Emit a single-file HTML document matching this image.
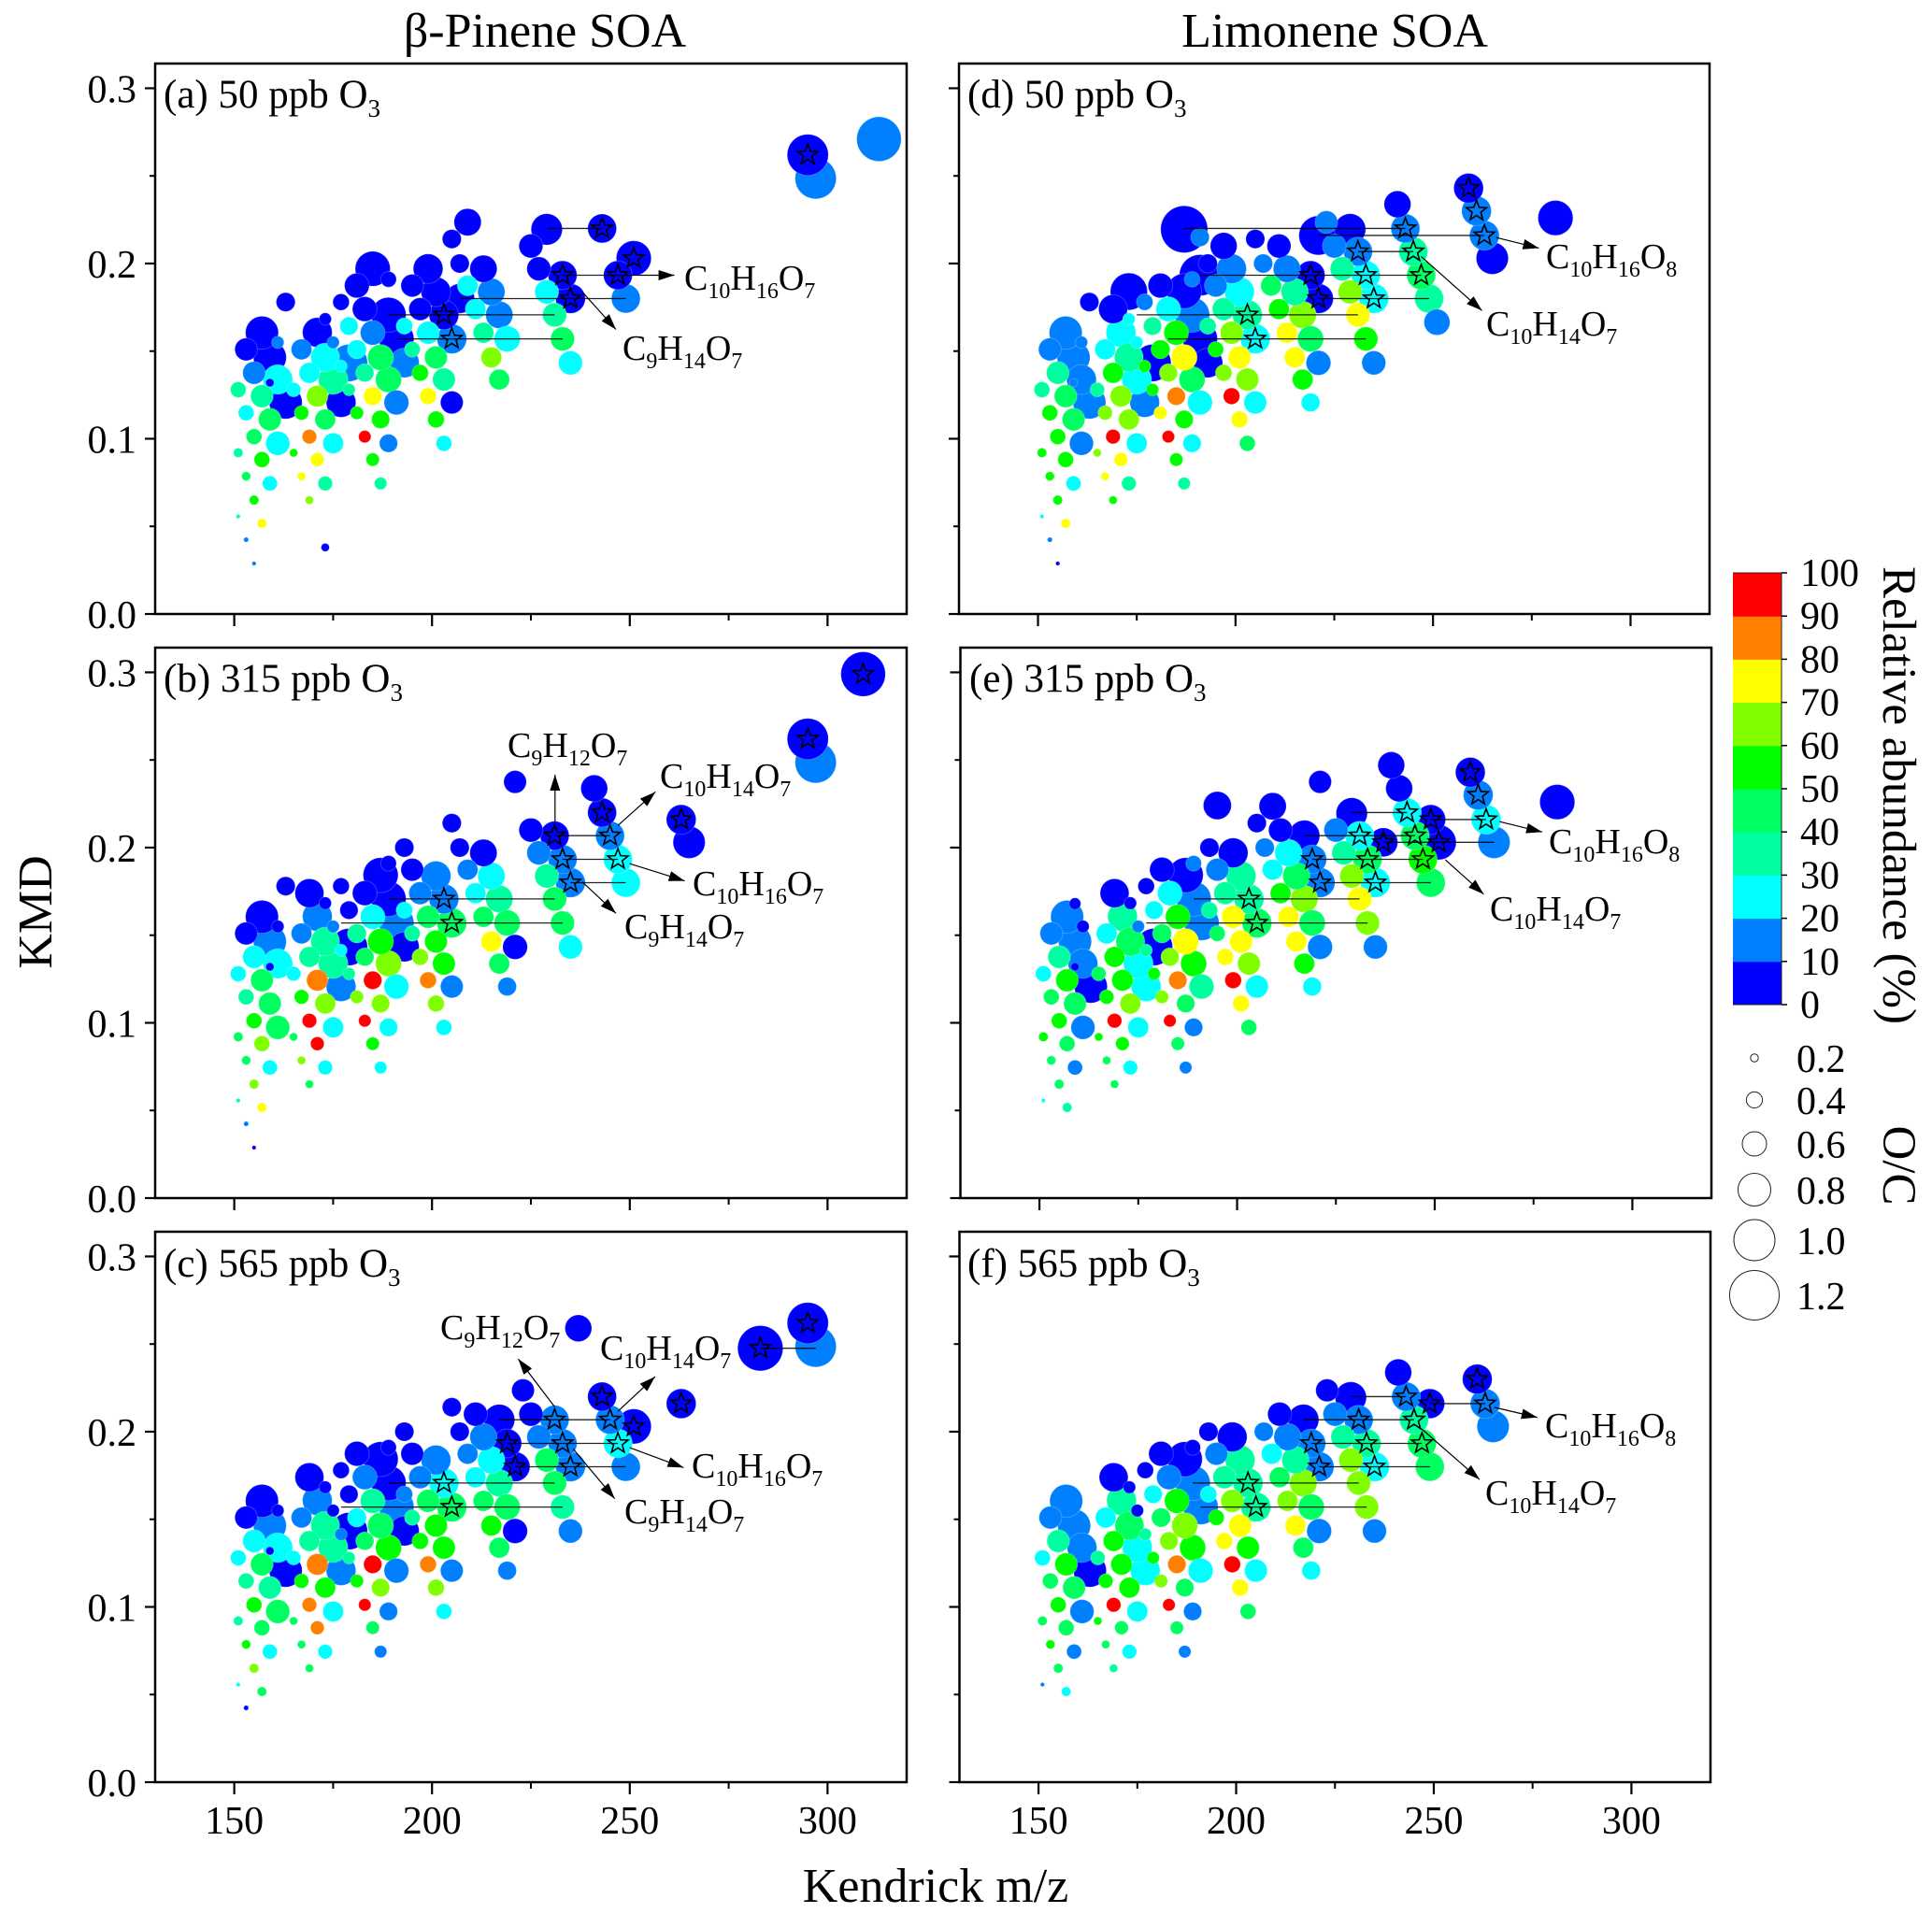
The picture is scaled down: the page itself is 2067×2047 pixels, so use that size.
<!DOCTYPE html>
<html lang="en">
<head>
<meta charset="utf-8">
<title>Kendrick mass defect plots of SOA</title>
<style>
html,body{margin:0;padding:0;background:#fff}
svg{display:block}
text{font-family:"Liberation Serif","DejaVu Serif",serif;fill:#000}
.tick{font-size:42px}
.title{font-size:52px}
.cbtitle{font-size:51px}
.plabel{font-size:43px}
.ann{font-size:38px}
</style>
</head>
<body>
<svg id="chart" xmlns="http://www.w3.org/2000/svg" width="2067" height="2047" viewBox="0 0 2067 2047">
<defs>
<marker id="head" markerUnits="userSpaceOnUse" markerWidth="18" markerHeight="12" refX="17" refY="5.5" orient="auto"><path d="M0,0 L17,5.5 L0,11 Z" fill="#000"/></marker>
</defs>
<rect width="2067" height="2047" fill="#fff"/>
<g id="plots"></g>

<text class="title" x="583" y="50" text-anchor="middle">β-Pinene SOA</text>
<text class="title" x="1428" y="50" text-anchor="middle">Limonene SOA</text>
<text class="title" x="1001" y="2035" text-anchor="middle">Kendrick m/z</text>
<text class="title" transform="translate(55,976) rotate(-90)" text-anchor="middle">KMD</text>

<text class="plabel" x="175" y="115">(a) 50 ppb O<tspan dy="10" font-size="27">3</tspan></text>
<text class="plabel" x="175" y="740">(b) 315 ppb O<tspan dy="10" font-size="27">3</tspan></text>
<text class="plabel" x="175" y="1366">(c) 565 ppb O<tspan dy="10" font-size="27">3</tspan></text>
<text class="plabel" x="1035" y="115">(d) 50 ppb O<tspan dy="10" font-size="27">3</tspan></text>
<text class="plabel" x="1037" y="740">(e) 315 ppb O<tspan dy="10" font-size="27">3</tspan></text>
<text class="plabel" x="1035" y="1366">(f) 565 ppb O<tspan dy="10" font-size="27">3</tspan></text>

<text class="ann" x="732" y="310">C<tspan dy="9" font-size="24">10</tspan><tspan dy="-9">H</tspan><tspan dy="9" font-size="24">16</tspan><tspan dy="-9">O</tspan><tspan dy="9" font-size="24">7</tspan></text>
<text class="ann" x="666" y="385">C<tspan dy="9" font-size="24">9</tspan><tspan dy="-9">H</tspan><tspan dy="9" font-size="24">14</tspan><tspan dy="-9">O</tspan><tspan dy="9" font-size="24">7</tspan></text>

<text class="ann" x="543" y="810">C<tspan dy="9" font-size="24">9</tspan><tspan dy="-9">H</tspan><tspan dy="9" font-size="24">12</tspan><tspan dy="-9">O</tspan><tspan dy="9" font-size="24">7</tspan></text>
<text class="ann" x="706" y="843">C<tspan dy="9" font-size="24">10</tspan><tspan dy="-9">H</tspan><tspan dy="9" font-size="24">14</tspan><tspan dy="-9">O</tspan><tspan dy="9" font-size="24">7</tspan></text>
<text class="ann" x="741" y="958">C<tspan dy="9" font-size="24">10</tspan><tspan dy="-9">H</tspan><tspan dy="9" font-size="24">16</tspan><tspan dy="-9">O</tspan><tspan dy="9" font-size="24">7</tspan></text>
<text class="ann" x="668" y="1004">C<tspan dy="9" font-size="24">9</tspan><tspan dy="-9">H</tspan><tspan dy="9" font-size="24">14</tspan><tspan dy="-9">O</tspan><tspan dy="9" font-size="24">7</tspan></text>

<text class="ann" x="471" y="1433">C<tspan dy="9" font-size="24">9</tspan><tspan dy="-9">H</tspan><tspan dy="9" font-size="24">12</tspan><tspan dy="-9">O</tspan><tspan dy="9" font-size="24">7</tspan></text>
<text class="ann" x="642" y="1455">C<tspan dy="9" font-size="24">10</tspan><tspan dy="-9">H</tspan><tspan dy="9" font-size="24">14</tspan><tspan dy="-9">O</tspan><tspan dy="9" font-size="24">7</tspan></text>
<text class="ann" x="740" y="1581">C<tspan dy="9" font-size="24">10</tspan><tspan dy="-9">H</tspan><tspan dy="9" font-size="24">16</tspan><tspan dy="-9">O</tspan><tspan dy="9" font-size="24">7</tspan></text>
<text class="ann" x="668" y="1630">C<tspan dy="9" font-size="24">9</tspan><tspan dy="-9">H</tspan><tspan dy="9" font-size="24">14</tspan><tspan dy="-9">O</tspan><tspan dy="9" font-size="24">7</tspan></text>

<text class="ann" x="1654" y="287">C<tspan dy="9" font-size="24">10</tspan><tspan dy="-9">H</tspan><tspan dy="9" font-size="24">16</tspan><tspan dy="-9">O</tspan><tspan dy="9" font-size="24">8</tspan></text>
<text class="ann" x="1590" y="359">C<tspan dy="9" font-size="24">10</tspan><tspan dy="-9">H</tspan><tspan dy="9" font-size="24">14</tspan><tspan dy="-9">O</tspan><tspan dy="9" font-size="24">7</tspan></text>
<text class="ann" x="1657" y="913">C<tspan dy="9" font-size="24">10</tspan><tspan dy="-9">H</tspan><tspan dy="9" font-size="24">16</tspan><tspan dy="-9">O</tspan><tspan dy="9" font-size="24">8</tspan></text>
<text class="ann" x="1594" y="985">C<tspan dy="9" font-size="24">10</tspan><tspan dy="-9">H</tspan><tspan dy="9" font-size="24">14</tspan><tspan dy="-9">O</tspan><tspan dy="9" font-size="24">7</tspan></text>
<text class="ann" x="1653" y="1538">C<tspan dy="9" font-size="24">10</tspan><tspan dy="-9">H</tspan><tspan dy="9" font-size="24">16</tspan><tspan dy="-9">O</tspan><tspan dy="9" font-size="24">8</tspan></text>
<text class="ann" x="1589" y="1610">C<tspan dy="9" font-size="24">10</tspan><tspan dy="-9">H</tspan><tspan dy="9" font-size="24">14</tspan><tspan dy="-9">O</tspan><tspan dy="9" font-size="24">7</tspan></text>

<g id="colorbar"></g>
<text class="cbtitle" transform="translate(2015,851) rotate(90)" text-anchor="middle">Relative abundance (%)</text>

<g>
<circle cx="1877" cy="1132" r="4.2" fill="none" stroke="#222" stroke-width="1"/>
<circle cx="1877" cy="1177" r="8.6" fill="none" stroke="#222" stroke-width="1"/>
<circle cx="1877" cy="1224" r="13" fill="none" stroke="#222" stroke-width="1"/>
<circle cx="1877" cy="1273" r="17.5" fill="none" stroke="#222" stroke-width="1"/>
<circle cx="1877" cy="1327" r="22" fill="none" stroke="#222" stroke-width="1"/>
<circle cx="1877" cy="1386" r="26.5" fill="none" stroke="#222" stroke-width="1"/>
<text class="tick" x="1922" y="1147">0.2</text>
<text class="tick" x="1922" y="1192">0.4</text>
<text class="tick" x="1922" y="1239">0.6</text>
<text class="tick" x="1922" y="1288">0.8</text>
<text class="tick" x="1922" y="1342">1.0</text>
<text class="tick" x="1922" y="1401">1.2</text>
</g>
<text class="cbtitle" transform="translate(2015,1247) rotate(90)" text-anchor="middle">O/C</text>
</svg>

<script>
const n = null;

const mz = [
151,151,151,153,153,153,153,155,155,155,
155,157,157,157,157,159,159,159,159,159,
161,161,161,163,163,165,165,167,167,167,
169,169,169,169,171,171,171,173,173,173,
173,173,173,175,175,175,177,177,177,179,
179,179,181,181,181,183,183,183,185,185,
185,185,187,187,187,187,187,189,189,189,
189,191,191,191,191,193,193,193,195,195,
195,197,197,197,199,199,199,201,201,201,
203,203,203,205,205,205,207,207,209,209,
211,211,213,213,215,215,217,217,217,219,
219,219,221,221,221,221,223,225,227,229,
229,231,231,233,233,235,235,237,237,239,
241,243,245,247,249,249,251,251,259,261,
263,265,281,283,295,297,309,313];

const kmd = [
.0557,.092,.128,.0424,.0786,.1148,.151,.0288,.065,.1012,
.1376,.0517,.0881,.1243,.1605,.0745,.111,.132,.1464,.168,
.0974,.1338,.155,.1207,.178,.092,.128,.0786,.1148,.151,
.065,.1012,.1376,.174,.0881,.1243,.1607,.038,.0745,.111,
.1464,.1683,.184,.0974,.1338,.155,.1207,.1414,.178,.128,
.1433,.1643,.1148,.151,.1874,.1012,.1376,.174,.0881,.1243,
.1605,.197,.0745,.111,.1464,.1843,.2195,.0974,.1338,.1707,
.191,.1207,.157,.1933,.215,.1433,.1643,.2,.151,.1874,
.224,.1376,.174,.21,.1243,.1605,.197,.111,.1464,.1838,
.0974,.1338,.1707,.1207,.157,.214,.18,.2,.1874,.2236,
.174,.21,.1605,.197,.1464,.1838,.1338,.1707,.2068,.1207,
.157,.1933,.1433,.18,.216,.2375,.2236,.21,.197,.1838,
.2195,.1707,.2068,.157,.1933,.1433,.18,.203,.259,.247,
.2338,.22,.2068,.1933,.18,.216,.1665,.203,.243,.23,
.216,.203,.226,.2476,.262,.2486,.299,.271];

const oc = [
.10,.23,.38,.12,.22,.38,.55,.10,.23,.38,
.55,.23,.38,.55,.80,.36,.55,.20,.80,.28,
.58,.72,.30,.80,.46,.20,.35,.20,.35,.50,
.20,.35,.50,.70,.33,.52,.72,.20,.35,.50,
.70,.30,.90,.50,.72,.30,.72,.30,.40,.30,
.90,.44,.32,.46,.60,.30,.44,.60,.32,.44,
.60,.85,.30,.44,.63,.85,1.14,.44,.63,.85,
.38,.60,.85,1.0,.45,.72,.40,.46,.38,.55,
.68,.40,.55,.65,.40,.55,.72,.40,.55,.72,
.38,.55,.72,.55,.72,.46,.72,.46,.50,.66,
.50,.58,.50,.66,.50,.66,.50,.66,.75,.45,
.63,.70,.60,.72,.95,.55,.55,.58,.58,.58,
.76,.58,.70,.58,.70,.58,.72,.70,.65,.65,
.65,.70,.70,.70,.70,.72,.63,.85,.72,.72,
.72,.78,.85,1.1,1.0,1.0,1.08,1.08];

const abundA = [
35,35,35,15,45,25,5,15,55,45,
15,75,55,35,5,25,45,5,5,n,
25,25,15,5,5,55,25,75,55,15,
65,85,25,n,75,65,5,5,35,45,
25,5,n,25,35,15,5,25,5,35,
15,25,55,25,5,95,35,5,55,75,
15,5,35,55,45,n,n,15,45,5,
5,15,5,n,n,15,25,n,35,5,
n,55,5,n,75,25,5,55,45,5,
25,35,5,5,15,5,5,5,25,5,
25,n,35,5,65,15,45,15,n,n,
25,n,n,n,n,n,n,5,5,25,
5,35,n,45,5,25,5,n,n,n,
n,5,n,5,15,n,n,5,n,n,
n,n,n,n,5,15,n,15];

const abundB = [
35,45,25,15,45,35,5,5,65,55,
25,75,65,45,5,25,45,5,15,n,
45,25,5,n,5,45,25,65,55,15,
45,95,35,5,95,85,15,n,25,65,
35,5,n,25,35,15,15,25,5,35,
5,5,65,35,n,95,45,5,55,95,
25,n,25,65,55,5,n,25,65,5,
5,25,15,n,n,5,25,5,35,5,
n,65,15,n,85,45,n,65,55,15,
25,55,15,15,45,5,n,5,15,n,
25,n,45,5,75,25,45,35,n,15,
45,n,5,n,n,5,n,5,15,35,
n,45,5,45,15,25,15,n,n,n,
5,5,15,25,25,n,n,n,n,n,
5,5,n,n,5,15,5,n];

const abundC = [
25,35,25,5,55,35,5,n,65,55,
25,45,45,45,5,25,35,5,15,n,
45,25,5,5,n,45,25,45,55,15,
45,85,35,5,85,85,15,n,25,55,
35,5,n,25,35,5,15,15,5,35,
5,5,55,25,5,95,45,15,45,95,
35,n,15,65,45,5,n,15,55,5,
5,15,15,n,n,5,15,5,35,5,
n,55,15,n,85,45,n,65,55,15,
25,55,25,15,45,5,n,5,15,n,
25,5,45,15,55,25,45,35,5,15,
45,5,5,5,n,n,5,5,15,45,
n,45,15,35,15,15,15,n,5,n,
n,5,15,25,15,n,n,5,n,n,
5,n,n,5,5,15,n,n];

const abundD = [
25,55,35,15,55,55,15,5,55,55,
35,75,55,45,15,25,45,15,15,n,
15,15,15,15,5,65,35,75,65,25,
55,95,55,5,75,65,25,n,35,65,
35,25,5,25,25,25,15,55,15,55,
5,35,75,55,5,95,65,25,55,85,
55,n,35,55,75,5,5,25,45,15,
15,25,5,5,15,5,35,5,55,15,
n,65,35,5,95,65,15,75,75,25,
45,65,35,25,25,5,n,15,45,n,
55,5,75,15,75,35,55,65,n,25,
45,5,15,5,5,n,15,15,35,65,
5,75,15,55,25,15,25,n,n,n,
5,15,35,45,35,n,15,n,5,15,
15,5,5,n,n,n,n,n];

const abundE = [
25,55,25,n,45,45,15,n,45,55,
35,35,45,55,15,15,45,5,15,5,
15,15,5,5,n,55,45,45,55,25,
45,95,55,5,55,55,35,n,25,65,
45,5,n,25,25,15,25,35,5,55,
5,25,65,45,5,95,65,25,45,85,
55,n,15,45,75,5,n,15,55,15,
15,35,15,n,n,n,35,5,45,15,
5,75,35,n,95,75,5,75,75,35,
45,65,35,25,45,5,n,15,25,5,
55,5,75,25,75,45,55,65,5,25,
45,15,15,15,n,5,n,15,35,65,
5,75,25,65,45,15,25,5,n,5,
5,25,45,55,45,5,n,5,5,15,
25,15,5,n,n,n,n,n];

const abundF = [
15,45,25,n,55,45,15,n,45,55,
35,25,45,55,15,15,45,n,15,n,
15,15,n,5,n,55,35,45,55,25,
35,95,55,5,45,55,35,n,25,55,
45,5,n,25,25,5,25,35,5,55,
n,25,65,45,5,95,65,15,45,85,
55,n,15,45,65,5,n,15,55,15,
5,25,15,n,n,n,25,5,55,15,
n,75,35,n,95,65,5,75,75,35,
45,55,35,25,35,n,n,15,25,n,
45,5,65,15,75,35,45,65,5,25,
45,15,15,15,n,n,5,15,35,65,
5,65,15,65,35,15,25,n,n,n,
5,15,35,45,45,5,n,n,n,5,
15,15,n,n,n,n,n,n];

const starMzA = [203,205,233,235,243,247,251,295];
const starKmdA = [.1707,.157,.1933,.18,.22,.1933,.203,.262];
const starMzB = [203,205,231,233,235,243,245,247,263,295,309];
const starKmdB = [.1707,.157,.2068,.1933,.18,.22,.2068,.1933,.216,.262,.299];
const starMzC = [203,205,219,221,231,233,235,243,245,247,251,263,283,295];
const starKmdC = [.1707,.157,.1933,.18,.2068,.1933,.18,.22,.2068,.1933,.203,.216,.2476,.262];
const starMzD = [203,205,219,221,231,233,235,243,245,247,259,261,263];
const starKmdD = [.1707,.157,.1933,.18,.2068,.1933,.18,.22,.2068,.1933,.243,.23,.216];
const starMzE = [203,205,219,221,231,233,235,237,243,245,247,249,251,259,261,263];
const starKmdE = [.1707,.157,.1933,.18,.2068,.1933,.18,.203,.22,.2068,.1933,.216,.203,.243,.23,.216];
const starMzF = [203,205,219,221,231,233,235,243,245,247,249,261,263];
const starKmdF = [.1707,.157,.1933,.18,.2068,.1933,.18,.22,.2068,.1933,.216,.23,.216];

const guideKmdA = [.1707,.157,.18,.1933,.22];
const guideFromA = [189,191,207,233,229];
const guideToA = [231,233,249,247,243];
const guideKmdB = [.1707,.157,.18,.1933,.2068];
const guideFromB = [189,177,235,233,231];
const guideToB = [231,233,249,247,245];
const guideKmdC = [.1707,.157,.18,.1933,.2068,.2476];
const guideFromC = [189,177,221,219,217,283];
const guideToC = [231,233,249,247,245,297];
const guideKmdD = [.22,.216,.2068,.1933,.18,.1707,.157];
const guideFromD = [187,221,231,191,221,175,183];
const guideToD = [243,263,245,247,249,231,233];
const guideKmdE = [.1707,.157,.18,.1933,.2068,.203,.216,.22];
const guideFromE = [189,177,221,219,217,237,249,229];
const guideToE = [231,233,249,247,245,265,263,243];
const guideKmdF = [.1707,.157,.18,.1933,.2068,.216,.22];
const guideFromF = [189,191,221,219,217,249,229];
const guideToF = [231,233,249,247,245,263,243];

const arrowFromMzA = [247,238];
const arrowFromKmdA = [.1933,.1838];
const arrowToMzA = [261.3,246.5];
const arrowToKmdA = [.1933,.1624];
const arrowFromMzB = [231.1,247,250,238];
const arrowFromKmdB = [.2148,.2126,.1908,.1804];
const arrowToMzB = [231.1,256.5,263.9,246.5];
const arrowToKmdB = [.2416,.2318,.181,.1625];
const arrowFromMzC = [231,247,250,235.7];
const arrowFromKmdC = [.2142,.2116,.1909,.1901];
const arrowToMzC = [221.8,256.4,263.6,246.2];
const arrowToKmdC = [.2415,.2314,.1795,.1618];
const arrowFromMzD = [266,247];
const arrowFromKmdD = [.2148,.204];
const arrowToMzD = [276.8,262.4];
const arrowToKmdD = [.2088,.1731];
const arrowFromMzE = [266.4,252.7];
const arrowFromKmdE = [.2148,.193];
const arrowToMzE = [277.2,262.4];
const arrowToKmdE = [.2089,.1734];
const arrowFromMzF = [265.3,246.8];
const arrowFromKmdF = [.2139,.2018];
const arrowToMzF = [276.2,261.6];
const arrowToKmdF = [.2081,.1727];

const xMajor = [150,200,250,300];
const xMinor = [175,225,275];
const yMajor = [0,.1,.2,.3];
const yMinor = [.05,.15,.25];
const xTickLabels = ['150','200','250','300'];
const yTickLabels = ['0.0','0.1','0.2','0.3'];
const colorbarBins = [0,10,20,30,40,50,60,70,80,90,100];

const SVGNS = 'http://www.w3.org/2000/svg';
function mk(tag, parent, attrs) {
  const el = document.createElementNS(SVGNS, tag);
  for (const k in attrs) el.setAttribute(k, attrs[k]);
  parent.appendChild(el);
  return el;
}
function binColor(v) {
  const palette = ['#0000ff','#0080ff','#00ffff','#00ff9f','#00ff60','#00ff00','#80ff00','#ffff00','#ff8000','#ff0000'];
  return palette[Math.min(9, Math.floor(v / 10))];
}
function starPoints(cx, cy, R) {
  const r = R * 0.42, pts = [];
  for (let i = 0; i < 10; i++) {
    const a = -Math.PI / 2 + i * Math.PI / 5;
    const q = i % 2 ? r : R;
    pts.push((cx + q * Math.cos(a)).toFixed(2) + ',' + (cy + q * Math.sin(a)).toFixed(2));
  }
  return pts.join(' ');
}
function sizeOf(o) { return o * 22; }

function drawPanel(id, box, abund, starMz, starKmd, gKmd, gFrom, gTo, aFM, aFK, aTM, aTK, showXLabels, showYLabels) {
  const root = document.getElementById('plots');
  const g = mk('g', root, {});
  
  
  const kx = (box.r - box.l) / 190;
  const ky = (box.b - box.t) / 0.3141;
  const X = m => box.l + (m - 130) * kx;
  const Y = v => box.b - v * ky;

  const order = mz.map((_, i) => i).filter(i => abund[i] !== null);
  order.sort((p, q) => (oc[q] - oc[p]) || (mz[q] - mz[p]));
  order.forEach(i => {
    const c = mk('circle', g, {cx: X(mz[i]).toFixed(2), cy: Y(kmd[i]).toFixed(2), r: sizeOf(oc[i]).toFixed(2), fill: binColor(abund[i]), stroke: '#ffffff', 'stroke-opacity': '0.22', 'stroke-width': '1'});
    
    
  });

  gKmd.forEach((v, i) => {
    const l = mk('line', g, {x1: X(gFrom[i]), x2: X(gTo[i]), y1: Y(v), y2: Y(v), stroke: '#000', 'stroke-width': '1.3', 'stroke-opacity': '0.85'});
    
    
  });

  aFM.forEach((v, i) => {
    const l = mk('line', g, {x1: X(v), y1: Y(aFK[i]), x2: X(aTM[i]), y2: Y(aTK[i]), stroke: '#000', 'stroke-width': '1.2', 'marker-end': 'url(#head)'});
    
    
  });

  starMz.forEach((v, i) => {
    const s = mk('polygon', g, {points: starPoints(X(v), Y(starKmd[i]), 11.5), fill: 'none', stroke: '#000', 'stroke-width': '1.6', 'stroke-linejoin': 'miter'});
    
    
  });

  const frame = mk('rect', g, {x: box.l, y: box.t, width: box.r - box.l, height: box.b - box.t, fill: 'none', stroke: '#000', 'stroke-width': '2.5'});
  
  

  yMajor.forEach((v, i) => {
    const t = mk('line', g, {x1: box.l - 11, x2: box.l, y1: Y(v), y2: Y(v), stroke: '#000', 'stroke-width': '2.2'});
    
    
    if (showYLabels) {
      const tx = mk('text', g, {class: 'tick', x: box.l - 20, y: Y(v) + 15, 'text-anchor': 'end'});
      
      
      tx.textContent = yTickLabels[i];
    }
  });
  yMinor.forEach(v => {
    const t = mk('line', g, {x1: box.l - 6, x2: box.l, y1: Y(v), y2: Y(v), stroke: '#000', 'stroke-width': '2'});
    
    
  });
  xMajor.forEach((v, i) => {
    const t = mk('line', g, {x1: X(v), x2: X(v), y1: box.b, y2: box.b + 13, stroke: '#000', 'stroke-width': '2.2'});
    
    
    if (showXLabels) {
      const tx = mk('text', g, {class: 'tick', x: X(v), y: box.b + 55, 'text-anchor': 'middle'});
      
      
      tx.textContent = xTickLabels[i];
    }
  });
  xMinor.forEach(v => {
    const t = mk('line', g, {x1: X(v), x2: X(v), y1: box.b, y2: box.b + 7, stroke: '#000', 'stroke-width': '2'});
    
    
  });
}

drawPanel('a', {l:166, r:970, t:68, b:657}, abundA, starMzA, starKmdA, guideKmdA, guideFromA, guideToA, arrowFromMzA, arrowFromKmdA, arrowToMzA, arrowToKmdA, false, true);
drawPanel('b', {l:166, r:970, t:693, b:1282}, abundB, starMzB, starKmdB, guideKmdB, guideFromB, guideToB, arrowFromMzB, arrowFromKmdB, arrowToMzB, arrowToKmdB, false, true);
drawPanel('c', {l:166, r:970, t:1318, b:1907}, abundC, starMzC, starKmdC, guideKmdC, guideFromC, guideToC, arrowFromMzC, arrowFromKmdC, arrowToMzC, arrowToKmdC, true, true);
drawPanel('d', {l:1026, r:1829, t:68, b:657}, abundD, starMzD, starKmdD, guideKmdD, guideFromD, guideToD, arrowFromMzD, arrowFromKmdD, arrowToMzD, arrowToKmdD, false, false);
drawPanel('e', {l:1027.5, r:1831, t:693, b:1282}, abundE, starMzE, starKmdE, guideKmdE, guideFromE, guideToE, arrowFromMzE, arrowFromKmdE, arrowToMzE, arrowToKmdE, false, false);
drawPanel('f', {l:1026.5, r:1830, t:1318, b:1907}, abundF, starMzF, starKmdF, guideKmdF, guideFromF, guideToF, arrowFromMzF, arrowFromKmdF, arrowToMzF, arrowToKmdF, true, false);

(function drawColorbar() {
  const g = document.getElementById('colorbar');
  const left = 1854, right = 1906, top = 613, bottom = 1075;
  const Y = v => bottom - (v / 100) * (bottom - top);
  colorbarBins.slice(0, -1).forEach((v, i) => {
    const r = mk('rect', g, {x: left, y: Y(colorbarBins[i + 1]), width: right - left, height: Y(v) - Y(colorbarBins[i + 1]) + 0.5, fill: binColor(v)});
    
    
  });
  const edge = mk('path', g, {d: 'M' + left + ',' + top + 'H' + right + 'V' + bottom + 'H' + left, fill: 'none', stroke: '#222', 'stroke-width': '1'});
  
  
  colorbarBins.forEach(v => {
    const t = mk('line', g, {x1: right, x2: right + 6, y1: Y(v), y2: Y(v), stroke: '#000', 'stroke-width': '1.5'});
    
    
    const tx = mk('text', g, {class: 'tick', x: 1926, y: Y(v) + 14});
    
    
    tx.textContent = String(v);
  });
})();
</script>
</body>
</html>
